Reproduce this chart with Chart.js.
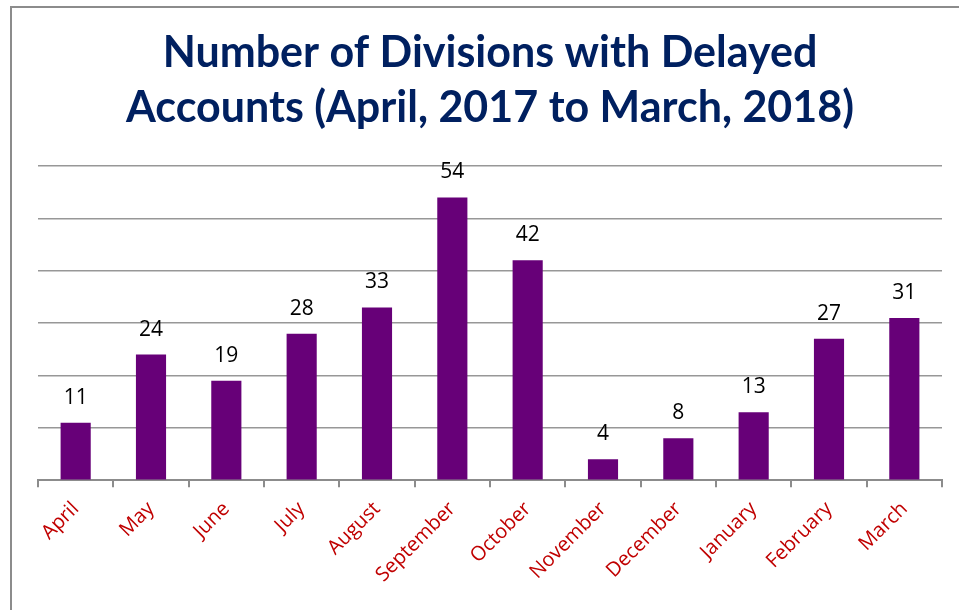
<!DOCTYPE html>
<html>
<head>
<meta charset="utf-8">
<script src="https://cdn.jsdelivr.net/npm/chart.js@4"></script>
<style>
    html, body { margin: 0; padding: 0; background: #fff; }
    #wrap { width: 959px; height: 610px; }
</style>
</head>
<body>
<div id="wrap"><canvas id="chart"></canvas></div>
<script>
const titleLines = ["Number of Divisions with Delayed", "Accounts (April, 2017 to March, 2018)"]
const months = ["April", "May", "June", "July", "August", "September", "October", "November", "December", "January", "February", "March"]
const delayed = [11, 24, 19, 28, 33, 54, 42, 4, 8, 13, 27, 31]
const yTicks = [0, 10, 20, 30, 40, 50, 60]

// white background and the grey frame round the chart
const frame = {
    id: "frame",
    beforeDraw(chart) {
        const ctx = chart.ctx
        ctx.save()
        ctx.fillStyle = "#fff"
        ctx.fillRect(0, 0, chart.width, chart.height)
        ctx.strokeStyle = "#8c8c8c"
        ctx.lineWidth = 2
        ctx.strokeRect(11, 7, chart.width + 10, chart.height + 10)
        ctx.restore()
    }
}

// value above each bar
const valueLabels = {
    id: "valueLabels",
    afterDatasetsDraw(chart) {
        const ctx = chart.ctx
        const meta = chart.getDatasetMeta(0)
        ctx.save()
        ctx.font = "21px 'Open Sans'"
        ctx.fillStyle = "#000"
        ctx.textAlign = "center"
        ctx.textBaseline = "alphabetic"
        meta.data.forEach((bar, i) => {
            ctx.fillText(delayed[i], bar.x, bar.y - 19)
        })
        ctx.restore()
    }
}

new Chart("chart", {
    type: "bar",
    data: {
        labels: months,
        datasets: [{
            data: delayed,
            backgroundColor: "#670078",
            borderWidth: 0,
            categoryPercentage: 1,
            barPercentage: 0.4,
        }]
    },
    options: {
        responsive: true,
        maintainAspectRatio: false,
        animation: false,
        layout: {
            padding: { left: 38, right: 17, top: 0, bottom: 13 },
        },
        plugins: {
            legend: { display: false },
            tooltip: { enabled: false },
            title: {
                display: true,
                text: titleLines,
                color: "#002060",
                font: { family: "Lato", size: 43, weight: "bold", lineHeight: 1.28 },
                padding: { top: 26, bottom: 30 },
            },
        },
        scales: {
            x: {
                grid: {
                    offset: true,
                    drawOnChartArea: false,
                    drawTicks: true,
                    tickLength: 7,
                    color: "#8c8c8c",
                    lineWidth: 2,
                },
                border: { color: "#8c8c8c", width: 2 },
                ticks: {
                    color: "#c00000",
                    font: { family: "Open Sans", size: 20 },
                    minRotation: 45,
                    maxRotation: 45,
                    padding: 10,
                },
            },
            y: {
                min: yTicks[0],
                max: yTicks[yTicks.length - 1],
                afterBuildTicks: axis => {
                    axis.ticks = yTicks.map(v => ({ value: v }))
                },
                afterFit: axis => {
                    axis.width = 0
                },
                ticks: { display: false },
                grid: { color: "#979797", lineWidth: 1.5, drawTicks: false },
                border: { display: false },
            },
        },
    },
    plugins: [frame, valueLabels],
})
</script>
</body>
</html>
